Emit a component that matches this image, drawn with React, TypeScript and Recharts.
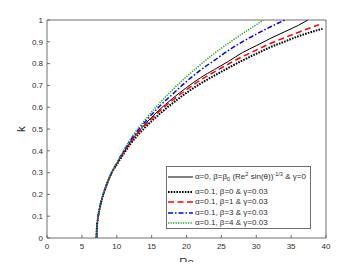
import React from 'react';
import { LineChart, Line, XAxis, YAxis, Legend, ReferenceArea } from 'recharts';

const FONT = '"Liberation Sans", Arial, Helvetica, sans-serif';
const AXIS = '#6e6e6e';
const TEXT = '#2e2e2e';

const xTicks = [0, 5, 10, 15, 20, 25, 30, 35, 40];
const yTicks = [0, 0.1, 0.2, 0.3, 0.4, 0.5, 0.6, 0.7, 0.8, 0.9, 1];

// alpha=0, beta=beta0(...), gamma=0  (black solid)
const reSolid = [7.1, 7.13, 7.3, 7.6, 8.0, 8.5, 9.2, 10, 11, 12, 14, 16, 18, 20, 22, 24, 26, 28, 30, 32, 34, 36, 37.4];
const kSolid = [0, 0.036, 0.09, 0.143, 0.193, 0.24, 0.295, 0.34, 0.393, 0.443, 0.52, 0.585, 0.64, 0.69, 0.735, 0.773, 0.81, 0.85, 0.882, 0.915, 0.945, 0.975, 1.0];

// alpha=0.1, beta=0, gamma=0.03 (black dotted)
const reB0 = [7.1, 7.13, 7.3, 7.6, 8.0, 8.5, 9.2, 10, 11, 12, 14, 16, 18, 20, 22, 24, 26, 28, 30, 32, 34, 36, 38, 39.5];
const kB0 = [0, 0.036, 0.09, 0.143, 0.193, 0.24, 0.295, 0.337, 0.387, 0.433, 0.505, 0.565, 0.618, 0.666, 0.708, 0.745, 0.78, 0.814, 0.845, 0.875, 0.9, 0.925, 0.946, 0.96];

// alpha=0.1, beta=1, gamma=0.03 (red dashed)
const reB1 = [7.1, 7.13, 7.3, 7.6, 8.0, 8.5, 9.2, 10, 11, 12, 14, 16, 18, 20, 22, 24, 26, 28, 30, 32, 34, 36, 38, 39];
const kB1 = [0, 0.036, 0.09, 0.143, 0.193, 0.24, 0.295, 0.34, 0.392, 0.44, 0.515, 0.578, 0.632, 0.68, 0.724, 0.762, 0.798, 0.832, 0.862, 0.892, 0.918, 0.943, 0.967, 0.978];

// alpha=0.1, beta=3, gamma=0.03 (blue dash-dot)
const reB3 = [7.1, 7.13, 7.3, 7.6, 8.0, 8.5, 9.2, 10, 11, 12, 14, 16, 18, 20, 22, 24, 26, 28, 30, 32, 34.1];
const kB3 = [0, 0.036, 0.09, 0.143, 0.193, 0.24, 0.295, 0.343, 0.398, 0.45, 0.53, 0.6, 0.66, 0.718, 0.77, 0.815, 0.86, 0.9, 0.935, 0.968, 1.0];

// alpha=0.1, beta=4, gamma=0.03 (green dotted)
const reB4 = [7.1, 7.13, 7.3, 7.6, 8.0, 8.5, 9.2, 10, 11, 12, 14, 16, 18, 20, 22, 24, 26, 28, 30, 31];
const kB4 = [0, 0.036, 0.09, 0.143, 0.193, 0.24, 0.295, 0.346, 0.402, 0.456, 0.54, 0.614, 0.68, 0.74, 0.795, 0.847, 0.893, 0.937, 0.978, 1.0];

const toData = (re: number[], k: number[]) => re.map((r, i) => ({ re: r, k: k[i] }));

const supStyle: React.CSSProperties = { fontSize: 5.6, position: 'relative', top: -3 };
const subStyle: React.CSSProperties = { fontSize: 5.6, position: 'relative', top: 2 };

const series = [
  {
    key: 'solid', data: toData(reSolid, kSolid), color: '#000000', width: 1, dash: undefined as string | undefined,
    label: (
      <>
        α=0, β=β<span style={subStyle}>0</span> (Re<span style={supStyle}>2</span> sin(θ))<span style={supStyle}>-1/3</span> &amp; γ=0
      </>
    ),
  },
  { key: 'b0', data: toData(reB0, kB0), color: '#000000', width: 2, dash: '1.6 1.2', label: <>α=0.1, β=0 &amp; γ=0.03</> },
  { key: 'b1', data: toData(reB1, kB1), color: '#ff0000', width: 1.5, dash: '6 3.5', label: <>α=0.1, β=1 &amp; γ=0.03</> },
  { key: 'b3', data: toData(reB3, kB3), color: '#0000ff', width: 1.5, dash: '5 2 1.5 2', label: <>α=0.1, β=3 &amp; γ=0.03</> },
  { key: 'b4', data: toData(reB4, kB4), color: '#1fae1f', width: 1.5, dash: '1.3 1.2', label: <>α=0.1, β=4 &amp; γ=0.03</> },
];

const LegendBox = () => (
  <div
    style={{
      boxSizing: 'border-box', width: 145, height: 63, border: `1px solid ${AXIS}`, background: '#fff',
      fontFamily: FONT, fontSize: 8, color: TEXT, paddingTop: 1,
    }}
  >
    {series.map((s, i) => (
      <div key={s.key} style={{ display: 'flex', alignItems: 'center', height: i === 0 ? 19 : 10.4, whiteSpace: 'nowrap', lineHeight: 1 }}>
        <svg width={25} height={6} style={{ marginLeft: 1, flex: 'none', display: 'block' }}>
          <line x1={0} x2={25} y1={3} y2={3} stroke={s.color} strokeWidth={s.width} strokeDasharray={s.dash} />
        </svg>
        <span style={{ marginLeft: 2.3 }}>{s.label}</span>
      </div>
    ))}
  </div>
);

const tickStyle = { fill: TEXT, fontSize: 8, fontFamily: FONT };
const tickLineStyle = { stroke: AXIS, strokeWidth: 1 };
const NoTick = () => <g />;

export default function App() {
  return (
    <div style={{ width: 344, height: 262, marginBottom: -8 }}>
      <LineChart width={344} height={262} margin={{ top: 12, right: 26, left: 0, bottom: 8 }}>
        <XAxis
          xAxisId={0}
          type="number"
          dataKey="re"
          domain={[0, 40]}
          ticks={xTicks}
          allowDataOverflow
          height={24}
          tickSize={-3}
          tickMargin={8}
          axisLine={false}
          tickLine={tickLineStyle}
          tick={tickStyle}
        />
        <XAxis
          xAxisId="top"
          orientation="top"
          type="number"
          domain={[0, 40]}
          ticks={xTicks}
          height={0}
          tickSize={-3}
          axisLine={false}
          tickLine={tickLineStyle}
          tick={NoTick}
        />
        <YAxis
          yAxisId={0}
          type="number"
          domain={[0, 1]}
          ticks={yTicks}
          allowDataOverflow
          width={39}
          tickSize={-3}
          tickMargin={7}
          axisLine={false}
          tickLine={tickLineStyle}
          tick={tickStyle}
          label={{
            content: (p: any) => {
              const vb = p.viewBox || { x: 0, y: 12, width: 39, height: 218 };
              const cx = vb.x + 13;
              const cy = vb.y + vb.height / 2;
              return (
                <text x={cx} y={cy} transform={`rotate(-90 ${cx} ${cy})`} textAnchor="middle" dominantBaseline="central" fontSize={11.5} fill={TEXT} fontFamily={FONT}>
                  k
                </text>
              );
            },
          }}
        />
        <YAxis
          yAxisId="right"
          orientation="right"
          type="number"
          domain={[0, 1]}
          ticks={yTicks}
          width={0}
          tickSize={-3}
          axisLine={false}
          tickLine={tickLineStyle}
          tick={NoTick}
        />
        <ReferenceArea
          xAxisId={0}
          yAxisId={0}
          x1={0}
          x2={40}
          y1={0}
          y2={1}
          fill="none"
          fillOpacity={0}
          stroke={AXIS}
          strokeWidth={1}
          strokeOpacity={1}
          ifOverflow="visible"
          label={{
            content: (p: any) => {
              const vb = p.viewBox || { x: 39, y: 12, width: 279, height: 218 };
              const cx = vb.x + vb.width / 2;
              return (
                <text x={cx} y={vb.y + vb.height + 28} textAnchor="middle" fontSize={11.5} fill={TEXT} fontFamily={FONT}>
                  Re
                </text>
              );
            },
          }}
        />
        {series.map((s) => (
          <Line
            key={s.key}
            data={s.data}
            dataKey="k"
            xAxisId={0}
            yAxisId={0}
            type="monotone"
            stroke={s.color}
            strokeWidth={s.width}
            strokeDasharray={s.dash}
            dot={false}
            activeDot={false}
            isAnimationActive={false}
          />
        ))}
        <Legend
          layout="horizontal"
          verticalAlign="middle"
          align="center"
          content={() => <LegendBox />}
          wrapperStyle={{ left: 157.7, top: 157.7, width: 145, height: 63 }}
        />
      </LineChart>
    </div>
  );
}
